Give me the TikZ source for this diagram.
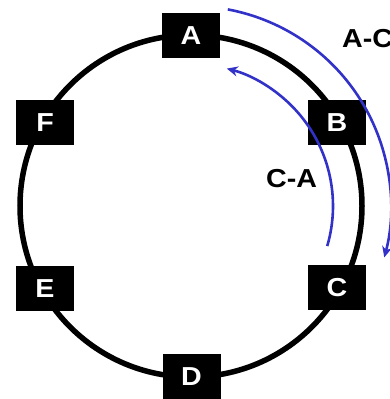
\documentclass[tikz,border=0pt]{standalone}
\usepackage{fontspec}
\setmainfont{Liberation Sans}
\newfontfamily\ringfont[FakeStretch=1.1]{Liberation Sans}
\usetikzlibrary{arrows.meta}
\definecolor{flowblue}{RGB}{50,50,200}
\begin{document}
\begin{tikzpicture}[
        x=1pt, y=1pt,
        ring/.style={draw, line width=5.5pt},
        station/.style={fill=black, text=white, minimum width=58pt, minimum height=45pt, inner sep=0pt,
            font=\ringfont\bfseries\fontsize{26}{26}\selectfont},
        flow/.style={draw=flowblue, line width=2.6pt, -{Stealth[length=11pt,width=10pt]}},
        flowlabel/.style={anchor=west, inner sep=0pt, font=\ringfont\bfseries\fontsize{26}{26}\selectfont},
        ]
    \useasboundingbox (0,0) rectangle (390,399);
    \coordinate (o) at (191,193);
    \draw[ring] (o) circle[radius=171pt];
    \node (a) [station] at (191,363.5) {A};
    \node (b) [station] at (337,276.5) {B};
    \node (c) [station] at (337,111) {C};
    \node (d) [station] at (191.5,22) {D};
    \node (e) [station] at (45,110.5) {E};
    \node (f) [station] at (45,276) {F};
    \draw[flow] (o) ++(79.4:200pt) arc[start angle=79.4, end angle=-14.9, radius=200pt];
    \draw[flow] (o) ++(-16.4:142pt) arc[start angle=-16.4, end angle=75.4, radius=142pt];
    \node (ac) [flowlabel] at (342,360) {A-C};
    \node (ca) [flowlabel] at (266,220) {C-A};
\end{tikzpicture}
\end{document}
